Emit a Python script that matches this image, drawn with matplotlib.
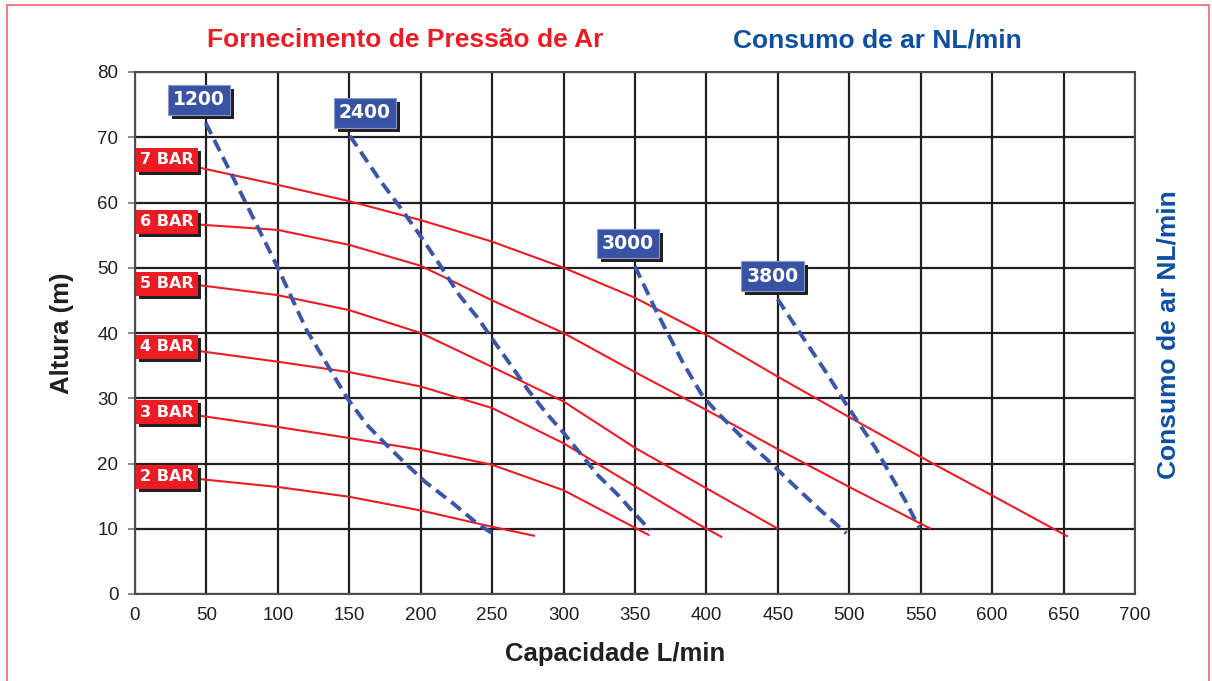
import matplotlib
matplotlib.use('Agg')
import matplotlib.pyplot as plt
from matplotlib.patches import Rectangle
from matplotlib.transforms import IdentityTransform

plt.rcParams['font.family'] = ['Liberation Sans', 'DejaVu Sans']

# Fornecimento de Pressão de Ar (red curves)
bar_labels = ['2 BAR', '3 BAR', '4 BAR', '5 BAR', '6 BAR', '7 BAR']
bar_x = [
    [0, 46, 100, 150, 200, 250, 280],
    [0, 46, 100, 150, 200, 250, 300, 360],
    [0, 46, 100, 150, 200, 250, 300, 350, 395, 411],
    [0, 46, 100, 150, 200, 250, 300, 350, 400, 450],
    [0, 46, 100, 150, 200, 250, 300, 350, 400, 450, 500, 557],
    [0, 46, 100, 150, 200, 250, 300, 350, 400, 450, 500, 550, 600, 653],
]
bar_y = [
    [18.9, 17.6, 16.4, 14.9, 12.8, 10.3, 8.9],
    [28.8, 27.3, 25.6, 23.9, 22.1, 19.8, 15.9, 9.0],
    [38.8, 37.2, 35.6, 34.0, 31.8, 28.5, 23.1, 16.5, 10.6, 8.7],
    [48.5, 47.3, 45.8, 43.5, 40.0, 34.8, 29.5, 22.4, 16.2, 10.0],
    [58.0, 56.6, 55.8, 53.5, 50.3, 45.0, 40.0, 34.0, 28.2, 22.2, 16.4, 10.0],
    [67.5, 65.3, 62.7, 60.2, 57.3, 54.0, 50.0, 45.4, 39.7, 33.3, 27.1, 21.0, 15.1, 8.8],
]

# Consumo de ar NL/min (blue dashed curves)
nl_labels = ['1200', '2400', '3000', '3800']
nl_x = [
    [49.5, 75.6, 100, 120, 148, 162, 174, 187, 203, 222, 239, 250],
    [150.5, 171.5, 185.5, 200.7, 213.5, 227, 240, 252, 264, 275, 288, 300,
     311.5, 324, 338, 352, 360.5],
    [350, 365, 383.7, 397.7, 409.5, 425, 442, 461, 479.5, 498],
    [449.8, 470, 484, 496, 507.5, 518, 530, 539, 547, 549],
]
nl_y = [
    [72.2, 60.8, 50.0, 40.5, 30.2, 26.0, 23.3, 20.5, 17.2, 14.0, 10.9, 9.3],
    [70.2, 63.4, 59.3, 54.6, 50.4, 45.8, 42.3, 38.5, 34.8, 31.3, 27.7, 24.7,
     21.6, 18.2, 15.2, 11.8, 9.8],
    [50.2, 43.3, 35.4, 30.2, 27.4, 24.0, 20.7, 16.7, 12.9, 9.3],
    [45.2, 38.5, 33.9, 29.7, 25.9, 22.5, 17.8, 14.4, 11.0, 10.2],
]

RED = '#ed1c24'
BLUE_LINE = '#3a56a8'
BLUE_BOX = '#3953a4'
BLUE_TXT = '#0d4fa3'
DARK = '#231f20'

W, H = 1212, 681
fig = plt.figure(figsize=(W / 100, H / 100), dpi=100)
ax = fig.add_axes([135 / W, 87 / H, 1000 / W, 522 / H])

for xs, ys in zip(bar_x, bar_y):
    ax.plot(xs, ys, color=RED, lw=1.5, zorder=3, solid_capstyle='butt')

for xs, ys in zip(nl_x, nl_y):
    ax.plot(xs, ys, color=BLUE_LINE, lw=2.8, dashes=(3.2, 1.7), zorder=4)

boxed = []  # (text, shadow offset in px)

# pressure labels at the start of each red curve
for lab, xs, ys in zip(bar_labels, bar_x, bar_y):
    t = ax.annotate(lab, (xs[0], ys[0]), xytext=(32, -6), textcoords='offset pixels',
                    ha='center', va='center', fontsize=11.5, fontweight='bold',
                    family='DejaVu Sans', color='white', zorder=6,
                    bbox=dict(boxstyle='square,pad=0.28', fc=RED, ec='none'))
    boxed.append((t, 3))

# consumption labels above each blue curve
nl_dx = [-7, 15, -7, -5]
for lab, xs, ys, dx in zip(nl_labels, nl_x, nl_y, nl_dx):
    t = ax.annotate(lab, (xs[0], ys[0]), xytext=(dx, 23), textcoords='offset pixels',
                    ha='center', va='center', fontsize=13.5, fontweight='bold',
                    family='DejaVu Sans', color='white', zorder=6,
                    bbox=dict(boxstyle='square,pad=0.28', fc=BLUE_BOX,
                              ec='#8a98cf', lw=0.8))
    boxed.append((t, 4))

ax.set_xlim(0, 700)
ax.set_ylim(0, 80)
ax.set_xticks(range(0, 701, 50))
ax.set_yticks(range(0, 81, 10))
ax.grid(True, color=DARK, lw=1.6)
ax.set_axisbelow(True)
ax.tick_params(axis='y', length=5, width=1.2, color='#777777', pad=7,
               labelsize=13.5, labelcolor=DARK)
ax.tick_params(axis='x', length=0, pad=9, labelsize=13.5, labelcolor=DARK)
for s in ax.spines.values():
    s.set_color('#4d4d4d')
    s.set_linewidth(1.5)

fig.text(405 / W, 1 - 40 / H, 'Fornecimento de Pressão de Ar', color=RED,
         fontsize=19, fontweight='bold', ha='center', va='center')
fig.text(877 / W, 1 - 40 / H, 'Consumo de ar NL/min', color=BLUE_TXT,
         fontsize=19, fontweight='bold', ha='center', va='center')
fig.text(1168 / W, 1 - 335 / H, 'Consumo de ar NL/min', color=BLUE_TXT,
         fontsize=19, fontweight='bold', ha='center', va='center', rotation=90)
fig.text(62 / W, 1 - 333 / H, 'Altura (m)', color=DARK,
         fontsize=18.5, fontweight='bold', ha='center', va='center', rotation=90)
fig.text(615 / W, 1 - 654 / H, 'Capacidade L/min', color=DARK,
         fontsize=18.5, fontweight='bold', ha='center', va='center')

# drop shadows behind the label boxes
fig.canvas.draw()
renderer = fig.canvas.get_renderer()
for t, off in boxed:
    bb = t.get_bbox_patch().get_window_extent(renderer)
    ax.add_artist(Rectangle((bb.x0 + off, bb.y0 - off), bb.width, bb.height,
                            transform=IdentityTransform(), fc=DARK, ec='none',
                            zorder=5, clip_on=False))

# thin red frame around the whole chart
fig.add_artist(Rectangle((7 / W, -0.05), 1202 / W, 1.05 - 5.5 / H,
                         transform=fig.transFigure, fill=False,
                         ec='#f2646c', lw=1.2))

fig.savefig('out.png', dpi=100)
